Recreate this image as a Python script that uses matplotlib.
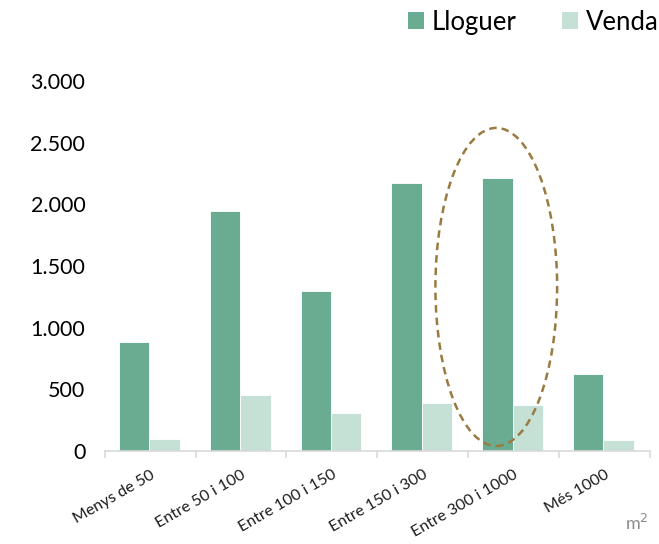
import numpy as np
import matplotlib
matplotlib.use("Agg")
import matplotlib.pyplot as plt
from matplotlib.patches import Ellipse, Patch

plt.rcParams['font.family'] = ['Lato', 'DejaVu Sans']

categories = ["Menys de 50", "Entre 50 i 100", "Entre 100 i 150",
              "Entre 150 i 300", "Entre 300 i 1000", "Més 1000"]
lloguer = [880, 1950, 1300, 2175, 2210, 625]
venda = [97, 453, 305, 391, 372, 89]
yticks = [0, 500, 1000, 1500, 2000, 2500, 3000]
ytick_labels = ["0", "500", "1.000", "1.500", "2.000", "2.500", "3.000"]

c_llog = "#6aac91"
c_vend = "#c5e0d4"

fig = plt.figure(figsize=(6.59, 5.44), dpi=100)
ax = fig.add_axes([0.159, 0.171, 0.827, 0.680])

x = np.arange(len(categories))
w = 0.335
ax.bar(x - w / 2 - 0.01, lloguer, w, color=c_llog, edgecolor="white", linewidth=0.6)
ax.bar(x + w / 2 - 0.01, venda, w, color=c_vend, edgecolor="white", linewidth=0.6)

ax.set_xlim(-0.5, len(categories) - 0.5)
ax.set_ylim(0, 3000)

for s in ["top", "right", "left"]:
    ax.spines[s].set_visible(False)
ax.spines["bottom"].set_color("#d9d9d9")
ax.spines["bottom"].set_linewidth(1.2)

ax.set_yticks(yticks)
ax.set_yticklabels(ytick_labels, fontsize=15.5)
ax.tick_params(axis="y", length=0, pad=14)

ax.set_xticks(x)
ax.set_xticklabels(categories, rotation=30, ha="right", rotation_mode="anchor",
                   fontsize=11.5, color="#1a1a1a")
ax.tick_params(axis="x", which="major", length=0, pad=12)
ax.set_xticks(np.arange(-0.5, len(categories)), minor=True)
ax.tick_params(axis="x", which="minor", length=5, color="#d9d9d9", width=1.2)

ell = Ellipse((3.81, 1330), 1.34, 2580, fill=False, edgecolor="#9a7a40",
              linestyle=(0, (3, 2)), linewidth=1.8, clip_on=False)
ax.add_patch(ell)

handles = [Patch(facecolor=c_llog, label="Lloguer"), Patch(facecolor=c_vend, label="Venda")]
fig.legend(handles=handles, loc="upper right", bbox_to_anchor=(1.034, 1.025), ncol=2,
           frameon=False, fontsize=18.5, handlelength=0.62, handleheight=0.62,
           columnspacing=1.75, handletextpad=0.3)

fig.text(0.948, 0.025, "m$^2$", fontsize=13, color="#8c8c8c")

fig.savefig("out.png", dpi=100)
